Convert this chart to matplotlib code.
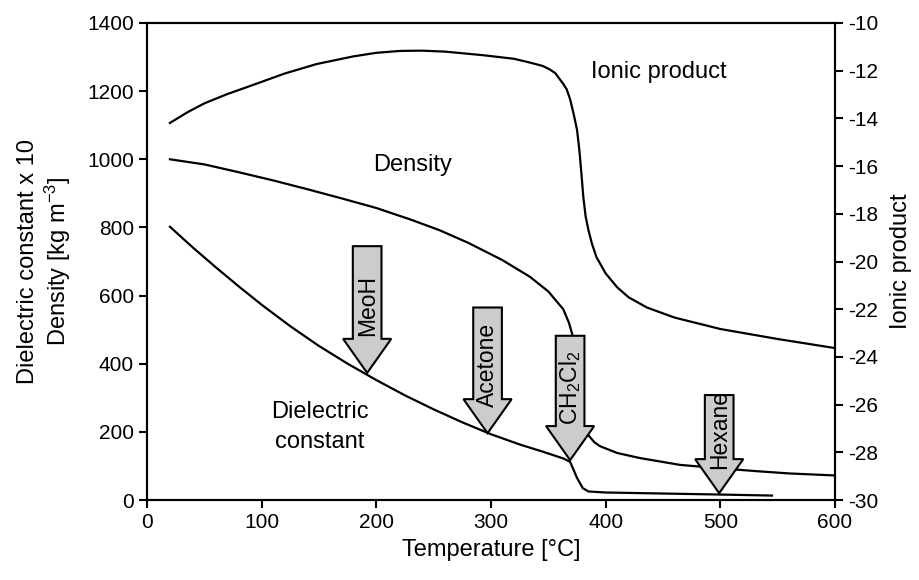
import matplotlib
matplotlib.use('Agg')
import matplotlib.pyplot as plt
from matplotlib.patches import Polygon

plt.rcParams['font.family'] = ['Liberation Sans', 'DejaVu Sans']
plt.rcParams['mathtext.fontset'] = 'custom'
plt.rcParams['mathtext.rm'] = 'Liberation Sans'
plt.rcParams['mathtext.it'] = 'Liberation Sans:italic'
plt.rcParams['mathtext.default'] = 'regular'
plt.rcParams['axes.unicode_minus'] = False

# dielectric constant x 10 (left axis)
diel_t = [20, 40, 60, 80, 100, 125, 150, 175, 200, 225, 250, 275, 300, 325, 345, 363,
          369, 375, 380, 385, 400, 450, 500, 545]
diel_v = [802, 741, 683, 627, 573, 510, 452, 400, 352, 307, 266, 228, 193, 163, 142, 122,
          112, 65, 35, 25, 22, 19, 16, 13]

# density, liquid branch and supercritical branch (left axis)
dens_t1 = [20, 50, 80, 110, 140, 170, 200, 230, 255, 280, 310, 334, 350, 363, 368, 371]
dens_v1 = [1000, 985, 962, 938, 912, 885, 857, 823, 792, 755, 704, 655, 612, 560, 520, 485]
dens_t2 = [385, 390, 395, 410, 430, 465, 500, 530, 560, 600]
dens_v2 = [190, 170, 158, 138, 123, 103, 93, 85, 78, 72]

# ionic product (right axis)
ion_t = [20, 35, 50, 70, 90, 120, 148, 180, 200, 221, 240, 260, 293, 320, 334, 345,
         351, 356, 360, 363, 366, 369, 372, 375, 377, 379, 380.5, 382.5, 385, 388, 392,
         400, 410, 420, 436, 460, 500, 550, 600]
ion_v = [-14.19, -13.75, -13.37, -12.98, -12.64, -12.12, -11.72, -11.4, -11.25, -11.17,
         -11.16, -11.2, -11.35, -11.5, -11.66, -11.8, -11.94, -12.1, -12.36, -12.55,
         -12.78, -13.2, -13.8, -14.47, -15.3, -16.4, -17.29, -18.1, -18.69, -19.25,
         -19.82, -20.5, -21.08, -21.5, -21.93, -22.35, -22.83, -23.25, -23.63]

# solvent arrows: x position, tip, top of shaft, label centre
arrow_labels = ['MeoH', 'Acetone', 'CH$_2$Cl$_2$', 'Hexane']
arrow_x = [192, 297, 369, 499]
arrow_tip = [373, 196, 117, 20]
arrow_top = [745, 565, 482, 308]
arrow_label_y = [572, 396, 329, 207]

fig = plt.figure(figsize=(9.2, 5.8), dpi=100)
ax = fig.add_axes([147 / 920, 80 / 580, 688 / 920, 477 / 580])
ax2 = ax.twinx()

lw = 1.6
ax.plot(diel_t, diel_v, color='black', lw=lw)
ax.plot(dens_t1, dens_v1, color='black', lw=lw)
ax.plot(dens_t2, dens_v2, color='black', lw=lw)
ax2.plot(ion_t, ion_v, color='black', lw=lw)

ax.set_xlim(0, 600)
ax.set_ylim(0, 1400)
ax2.set_ylim(-30, -10)
ax.set_xticks(range(0, 601, 100))
ax.set_yticks(range(0, 1401, 200))
ax2.set_yticks(range(-30, -9, 2))

for a in (ax, ax2):
    for s in a.spines.values():
        s.set_linewidth(1.5)
    a.tick_params(direction='out', length=6, width=1.5, labelsize=15)

ax.set_xlabel('Temperature [°C]', fontsize=17, labelpad=5)
ax.set_ylabel('Dielectric constant x 10\nDensity [kg m$^{-3}$]', fontsize=17,
              labelpad=10, linespacing=1.15)
ax2.set_ylabel('Ionic product', fontsize=17, labelpad=8)

# arrows drawn on top of all curves
bw, hw, hl = 12.5, 21, 100
for lab, x, tip, top, ly in zip(arrow_labels, arrow_x, arrow_tip, arrow_top, arrow_label_y):
    base = tip + hl
    verts = [(x - bw, top), (x + bw, top), (x + bw, base), (x + hw, base),
             (x, tip), (x - hw, base), (x - bw, base)]
    p = Polygon(verts, closed=True, facecolor='#cccccc', edgecolor='black', lw=1.5,
                joinstyle='miter', transform=ax.transData, zorder=5)
    ax2.add_patch(p)
    ax2.text(x, ly, lab, rotation=90, ha='center', va='center', fontsize=16.5,
             transform=ax.transData, zorder=6)

ax2.text(446, 1256, 'Ionic product', ha='center', va='center', fontsize=17,
         transform=ax.transData)
ax2.text(232, 983, 'Density', ha='center', va='center', fontsize=17,
         transform=ax.transData)
ax2.text(151, 214, 'Dielectric\nconstant', ha='center', va='center', fontsize=17,
         linespacing=1.45, transform=ax.transData)

fig.savefig('out.png', dpi=100)
